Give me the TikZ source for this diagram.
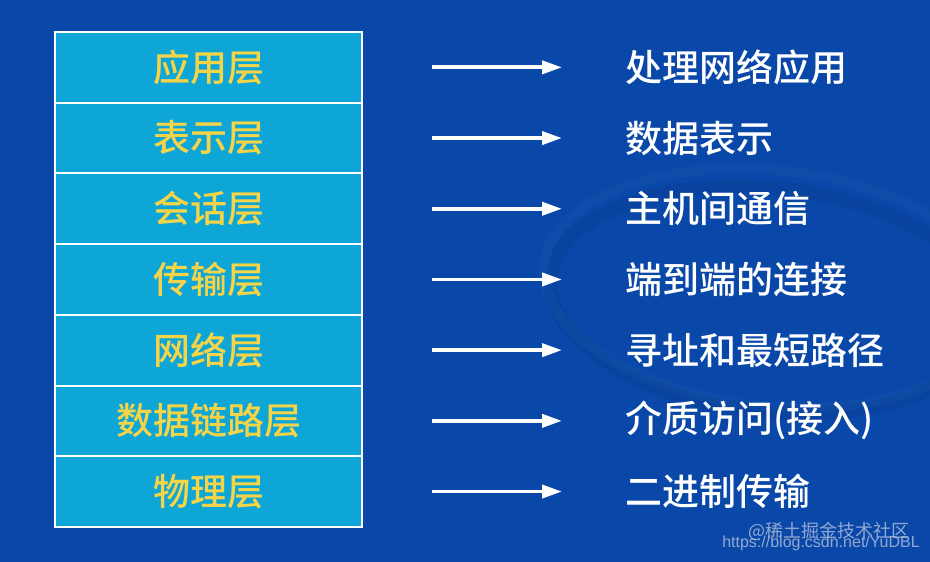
\documentclass[tikz,border=0pt]{standalone}
\usepackage{fontspec}
\newfontfamily\cjk{Noto Sans CJK SC Medium}
\newfontfamily\cjkwm{Noto Sans CJK SC}
\newfontfamily\wmfont{Liberation Sans}
\usetikzlibrary{arrows.meta}

\definecolor{bgblue}{RGB}{9,72,168}
\definecolor{layerfill}{RGB}{14,166,214}
\definecolor{layertext}{RGB}{246,212,72}
\definecolor{wmgray}{RGB}{170,185,215}

\tikzset{
  layer/.style={draw=white, line width=2pt, fill=layerfill, minimum width=307pt,
    minimum height=70.7pt, inner sep=0pt, text=layertext,
    font=\cjk\fontsize{37}{40}\selectfont},
  func/.style={anchor=west, inner sep=0pt, text=white,
    font=\cjk\fontsize{37}{40}\selectfont},
  maps/.style={white, line width=3.8pt, -{Triangle[length=20pt,width=13pt]}},
  wmark/.style={inner sep=0pt, text=wmgray, text opacity=0.85}
}

\begin{document}
\begin{tikzpicture}[x=1pt,y=-1pt]
  % Background
  \fill[bgblue] (0,0) rectangle (930,562);
  \useasboundingbox (0,0) rectangle (930,562);
  % faint swirl behind the right column
  \draw[black, opacity=0.05, line width=14pt, rotate around={-6:(770,300)}] (770,300) ellipse (220 and 112);
  \draw[white, opacity=0.025, line width=10pt, rotate around={-6:(770,300)}] (770,288) ellipse (228 and 118);

  % Layer stack, arrows and what each layer does
  \foreach \i/\lay/\fn in {1/应用层/处理网络应用, 2/表示层/数据表示, 3/会话层/主机间通信,
      4/传输层/端到端的连接, 5/网络层/寻址和最短路径, 6/数据链路层/介质访问(接入),
      7/物理层/二进制传输} {
    \node[layer] (lay\i) at (208.5, {32+70.7*(\i-0.5)}) {\lay};
    \node[func] (fn\i) at (625, {32+70.7*(\i-0.5)}) {\fn};
    \draw[maps] ([xshift=69pt]lay\i.east) -- ([xshift=-63pt]fn\i.west);
  }

  % Watermark
  \node[wmark, font=\cjkwm\fontsize{18}{20}\selectfont] (wm1) at (829,531) {@稀土掘金技术社区};
  \node[wmark, font=\wmfont\fontsize{16}{18}\selectfont] (wm2) at (821,543) {https://blog.csdn.net/YuDBL};
\end{tikzpicture}
\end{document}
